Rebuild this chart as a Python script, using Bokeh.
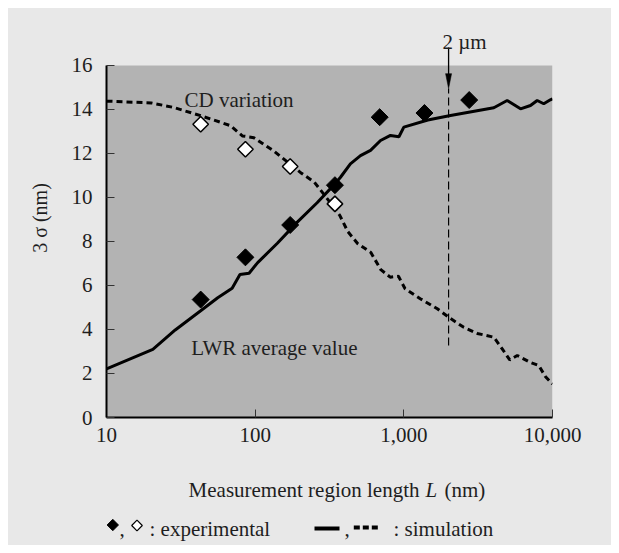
import numpy as np
from bokeh.plotting import figure
from bokeh.models import Range1d, FixedTicker, NumeralTickFormatter, BoxAnnotation
from bokeh.layouts import column
from bokeh.embed import file_html
from bokeh.resources import INLINE
from bokeh.core.properties import value

# ---- data ----
exp_L = [43, 86, 172, 344, 688, 1376, 2752]
lwr_exp = [5.36, 7.28, 8.75, 10.56, 13.65, 13.84, 14.43]

cd_exp_L = [43, 86, 172, 344]
cd_exp = [13.33, 12.19, 11.41, 9.71]

lwr_sim_L = [10, 20.5, 29, 43, 56, 70, 79, 91, 104, 141, 192, 261, 344, 375, 437,
             511, 597, 697, 813, 927, 1000, 1450, 2060, 4030, 4955, 6095, 7110,
             7890, 8730, 9680, 10000]
lwr_sim = [2.21, 3.1, 3.98, 4.85, 5.44, 5.87, 6.5, 6.56, 7.04, 7.92, 8.88, 9.76,
           10.62, 10.92, 11.53, 11.9, 12.14, 12.59, 12.82, 12.76, 13.2, 13.52,
           13.73, 14.08, 14.41, 14.03, 14.18, 14.41, 14.26, 14.44, 14.48]

cd_sim_L = [10, 20, 28, 43, 68, 82, 98, 133, 205, 250, 305, 370, 420, 490, 600,
            700, 810, 920, 1020, 1290, 1680, 2060, 2530, 3120, 4030, 4590, 5160,
            5790, 7110, 8090, 8980, 10000]
cd_sim = [14.38, 14.3, 14.1, 13.72, 13.27, 12.8, 12.72, 12.12, 11.1, 10.7, 9.95,
          9.2, 8.45, 7.9, 7.5, 6.72, 6.38, 6.42, 5.85, 5.4, 4.94, 4.5, 4.1, 3.82,
          3.65, 3.12, 2.62, 2.82, 2.5, 2.36, 1.85, 1.52]

x_ticks = [10, 100, 1000, 10000]
y_ticks = [0, 2, 4, 6, 8, 10, 12, 14, 16]

marker_L = 2000          # "2 um" reference position
marker_line = [3.27, 14.95]
arrow_top = 16.82

# ---- styling ----
FONT = "Liberation Serif"
TXT = "#1e1e1e"
BG = "#e8e8e8"
PLOT_BG = "#b3b3b3"
LEFT, RIGHT = 98, 59

p = figure(width=603, height=452, x_axis_type="log",
           x_range=Range1d(10, 10000), y_range=Range1d(0, 18.136),
           output_backend="svg", toolbar_location=None,
           min_border_left=LEFT, min_border_right=RIGHT, min_border_top=10,
           min_border_bottom=43, background_fill_color=BG,
           border_fill_color=BG, outline_line_color=None)
p.grid.visible = False

p.add_layout(BoxAnnotation(bottom=0, top=16, fill_color=PLOT_BG, fill_alpha=1,
                           line_color=None, level="underlay"))

p.line(cd_sim_L, cd_sim, line_width=3, line_color="black", line_dash="6 4")
p.line(lwr_sim_L, lwr_sim, line_width=3, line_color="black")

p.scatter(exp_L, lwr_exp, marker="square", angle=np.pi / 4, size=12,
          fill_color="black", line_color="black")
p.scatter(cd_exp_L, cd_exp, marker="square", angle=np.pi / 4, size=11,
          fill_color="white", line_color="black", line_width=1.5)

# 2 um marker
p.segment(x0=[marker_L], y0=[marker_line[0]], x1=[marker_L], y1=[marker_line[1]],
          line_color="black", line_width=1.2, line_dash="8 4")
p.segment(x0=[marker_L], y0=[15.6], x1=[marker_L], y1=[arrow_top],
          line_color="black", line_width=1.3)
hw = 10 ** (3 / 148.67)
p.patch([marker_L / hw, marker_L, marker_L * hw], [15.63, marker_line[1], 15.63],
        fill_color="black", line_color="black", line_width=0.5)

def label(x, y, t, size="21px"):
    p.text(x=[x], y=[y], text=[t], text_font=value(FONT), text_font_size=size,
           text_color=TXT, text_align="left", text_baseline="alphabetic")

label(33.5, 14.41, "CD variation")
label(37.1, 3.14, "LWR average value")
label(1820, 17.06, "2 µm")

# axes
p.xaxis.ticker = FixedTicker(ticks=x_ticks)
p.xaxis.formatter = NumeralTickFormatter(format="0,0")
p.yaxis.ticker = FixedTicker(ticks=y_ticks)
p.yaxis.bounds = (0, 16)
for ax in p.axis:
    ax.major_tick_in = 8
    ax.major_tick_out = 0
    ax.minor_tick_in = 0
    ax.minor_tick_out = 0
    ax.axis_line_width = 2
    ax.axis_line_color = "black"
    ax.major_tick_line_color = "#333333"
    ax.major_tick_line_width = 1
    ax.major_label_text_font = FONT
    ax.major_label_text_font_size = "21px"
    ax.major_label_text_color = TXT
p.yaxis.major_label_standoff = 14
p.xaxis.major_label_standoff = 10
p.yaxis.axis_label = "3 σ (nm)"
p.yaxis.axis_label_text_font = FONT
p.yaxis.axis_label_text_font_size = "20px"
p.yaxis.axis_label_text_font_style = "normal"
p.yaxis.axis_label_text_color = TXT
p.yaxis.axis_label_standoff = 18

# ---- bottom strip: axis title and key ----
# its frame shares the horizontal extent of the main plot's frame; the
# x range is expressed in strip pixels so the frame maps 1:1.
q = figure(width=603, height=85, x_range=Range1d(LEFT, 603 - RIGHT),
           y_range=Range1d(85, 0),
           output_backend="svg", toolbar_location=None,
           min_border_left=LEFT, min_border_right=RIGHT,
           min_border_top=0, min_border_bottom=0,
           x_axis_location=None, y_axis_location=None,
           background_fill_color=BG, border_fill_color=BG, outline_line_color=None)
q.grid.visible = False

def qtext(x, y, t, align="left", style="normal"):
    q.text(x=[x], y=[y], text=[t], text_font=value(FONT), text_font_size="21px",
           text_color=TXT, text_align=align, text_baseline="alphabetic",
           text_font_style=style)

qtext(411, 29.5, "Measurement region length", align="right")
qtext(417, 29.5, "L", style="italic")
qtext(436, 29.5, "(nm)")

# key: experimental
q.scatter([104.3], [64.5], marker="square", angle=np.pi / 4, size=8,
          fill_color="black", line_color="black")
qtext(111, 68, ",")
q.scatter([128.5], [65], marker="square", angle=np.pi / 4, size=7.5,
          fill_color="white", line_color="black", line_width=1.2)
qtext(141, 68, ": experimental")
# key: simulation
q.segment(x0=[306], y0=[68], x1=[331], y1=[68], line_color="black", line_width=4)
qtext(336, 68, ",")
q.segment(x0=[345.3], y0=[67], x1=[371], y1=[67], line_color="black",
          line_width=4, line_dash="6 3")
qtext(385, 68, ": simulation")

layout = column(p, q, spacing=0, margin=(8, 8, 8, 8),
                styles={"background-color": BG})
open("out.html", "w").write(file_html(layout, INLINE))
